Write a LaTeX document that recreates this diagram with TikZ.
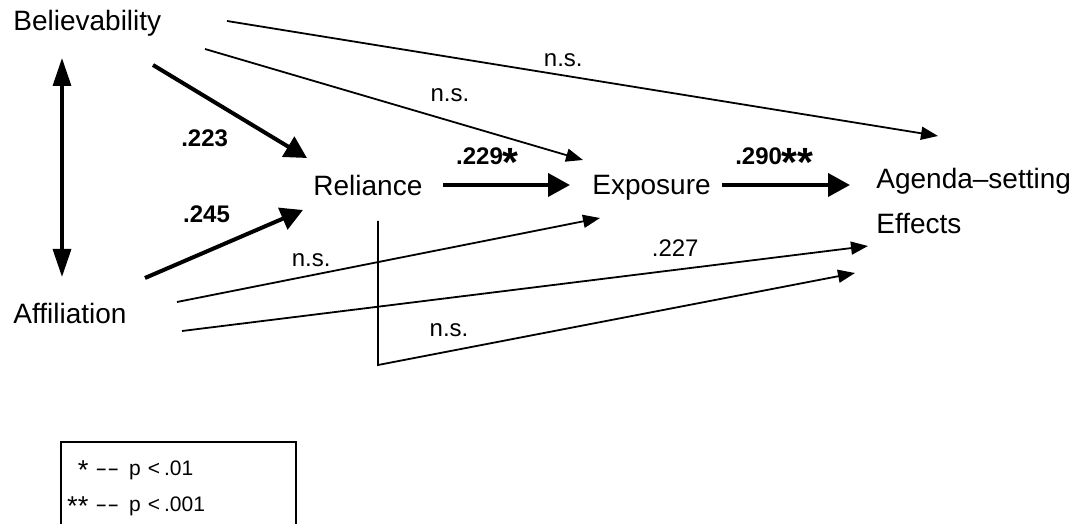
\documentclass[tikz,border=0pt]{standalone}
\usepackage{fontspec}
\setmainfont{Liberation Sans}
\usetikzlibrary{positioning,arrows.meta,calc}
\tikzset{
  agvar/.style={anchor=base west, inner sep=0pt, font=\fontsize{14}{22.5}\selectfont},
  aglab/.style={font=\fontsize{12}{14}\selectfont, inner sep=0pt},
  agnum/.style={font=\fontsize{12}{14}\selectfont\bfseries, inner sep=0pt},
  agthin/.style={line width=0.9pt, -{Triangle[length=8.5pt,width=6.5pt]}},
  agthick/.style={line width=2pt, -{Triangle[length=11pt,width=11.5pt]}},
  agboth/.style={line width=1.7pt, {Triangle[length=14pt,width=9pt]}-{Triangle[length=14pt,width=9pt]}},
  agkey/.style={anchor=base west, inner sep=0pt, font=\fontsize{10.5}{12}\selectfont},
  agbox/.style={line width=1.2pt},
}
\newcommand{\agStar}[1][1.7]{\raisebox{-\fpeval{0.716*(#1-1)}em}{\scalebox{#1}{*}}}
\newcommand{\agDash}{\scalebox{1.7}[1]{-}}
\newcommand{\agKey}[2]{\makebox[11pt][r]{#1}\hspace{3.5pt}\agDash\agDash\hspace{5pt}p\hspace{3.5pt}<\hspace{2pt}#2}

\begin{document}
\begin{tikzpicture}[x=0.5pt, y=-0.5pt]
  \useasboundingbox (0,0) rectangle (1073,524);
  \node[agvar] (bel) at (13,31) {Believability};
  \node[agvar] (rel) at (313,196) {Reliance};
  \node[agvar] (exp) at (592,195) {Exposure};
  \node[agvar] (aff) at (13,324) {Affiliation};
  \node[agvar, anchor=west, align=left] (age) at (876,201) {Agenda–setting\\Effects};
  % correlation between the two predictors
  \draw[agboth] ($(bel.base west)+(49,27)$) -- ($(aff.base west)+(49,-47)$);
  % paths to reliance
  \draw[agthick] ($(bel.base west)+(140,34)$) -- node[agnum, pos=.5, below left=8pt and 0pt] {.223} ($(rel.base west)+(-6,-38)$);
  \draw[agthick] ($(aff.base west)+(132,-46)$) -- node[agnum, pos=.55, above left=8pt and 0pt] {.245} ($(rel.base west)+(-10,14)$);
  \draw[agthick] ($(rel.base west)+(130,-11)$) -- node[agnum, pos=.35, above=3pt] {.229\agStar} ($(exp.base west)+(-22,-10)$);
  \draw[agthick] ($(exp.base west)+(130,-10)$) -- node[agnum, pos=.41, above=3pt] {.290\agStar\agStar} ($(age.west)+(-26,-16)$);
  % direct paths
  \draw[agthin] ($(bel.base west)+(192,18)$) -- node[aglab, pos=.648, above=9pt] {n.s.} ($(exp.base west)+(-9,-35)$);
  \draw[agthin] ($(bel.base west)+(214,-10)$) -- node[aglab, pos=.473, above=4pt] {n.s.} ($(age.west)+(62,-65)$);
  \draw[agthin] ($(aff.base west)+(164,-22)$) -- node[aglab, pos=.317, above=4pt] {n.s.} ($(exp.base west)+(8,23)$);
  \draw[agthin] ($(aff.base west)+(169,7)$) -- node[aglab, pos=.719, above=6pt] {.227} ($(age.west)+(-8,45)$);
  \draw[agthin] ($(rel.base west)+(65,25)$) -- ++(0,144) -- node[aglab, pos=.149, above=7pt] {n.s.} ($(age.west)+(-21,72)$);
  % key
  \draw[agbox] (61,530) -- (61,442) -- (296,442) -- (296,530);
  \node[agkey] (key1) at (66,475) {\agKey{\agStar[1.3]}{.01}};
  \node[agkey] (key2) at (66,511) {\agKey{\agStar[1.3]\agStar[1.3]}{.001}};
\end{tikzpicture}
\end{document}
